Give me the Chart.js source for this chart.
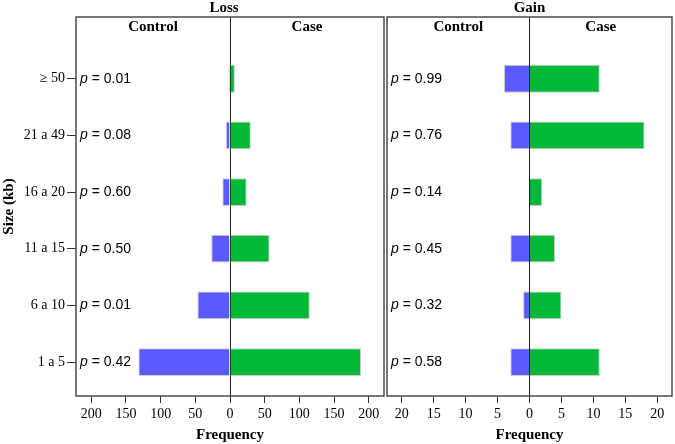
<!DOCTYPE html>
<html lang="en">
<head>
  <meta charset="UTF-8" />
  <script src="https://cdn.jsdelivr.net/npm/chart.js"></script>
  <title>Loss / Gain by size</title>
  <style>
    body { margin: 0; background: #fff; }
    #wrap { position: relative; width: 675px; height: 444px; }
    #lossBox { position: absolute; left: 0; top: 0; width: 385px; height: 444px; }
    #gainBox { position: absolute; left: 385px; top: 0; width: 290px; height: 444px; }
  </style>
</head>
<body>
  <div id="wrap">
    <div id="lossBox"><canvas id="lossChart"></canvas></div>
    <div id="gainBox"><canvas id="gainChart"></canvas></div>
  </div>

  <script>
    // size categories, top to bottom
    const sizes = ['≥ 50', '21 a 49', '16 a 20', '11 a 15', '6 a 10', '1 a 5'];

    // Loss
    const lossControl = [2, 6, 11, 27, 47, 132];
    const lossCase = [7, 30, 24, 57, 115, 189];
    const lossP = ['0.01', '0.08', '0.60', '0.50', '0.01', '0.42'];

    // Gain
    const gainControl = [4, 3, 0, 3, 1, 3];
    const gainCase = [11, 18, 2, 4, 5, 11];
    const gainP = ['0.99', '0.76', '0.14', '0.45', '0.32', '0.58'];

    const BLUE = '#5a5aff';
    const GREEN = '#00b838';
    const SERIF = '"Liberation Serif", "Times New Roman", serif';
    const SANS = '"Liberation Sans", Arial, sans-serif';

    // frame, headers, panel title and p-values
    const panelDecor = {
      id: 'panelDecor',
      afterDraw(chart) {
        const o = chart.options.plugins.panelDecor;
        const { ctx, chartArea: a } = chart;
        const xs = chart.scales.x, ys = chart.scales.y;
        const zero = xs.getPixelForValue(0);
        ctx.save();
        ctx.strokeStyle = '#4a4a4a';
        ctx.lineWidth = 1.5;
        ctx.strokeRect(a.left, a.top, a.right - a.left, a.bottom - a.top);

        ctx.fillStyle = '#000';
        ctx.textAlign = 'center';
        ctx.textBaseline = 'middle';
        ctx.font = 'bold 15px ' + SERIF;
        ctx.fillText(o.title, o.titleX != null ? o.titleX : (a.left + a.right) / 2, 8);
        ctx.fillText('Control', (a.left + zero) / 2, a.top + 10);
        ctx.fillText('Case', (zero + a.right) / 2, a.top + 10);

        ctx.textAlign = 'left';
        o.pvals.forEach((p, i) => {
          const y = ys.getPixelForValue(i);
          const x = a.left + 4;
          ctx.font = 'italic 14px ' + SANS;
          ctx.fillText('p', x, y);
          const w = ctx.measureText('p').width;
          ctx.font = '14px ' + SANS;
          ctx.fillText(' = ' + p, x + w, y);
        });
        ctx.restore();
      }
    };

    function makeChart(id, control, cases, pvals, lim, step, title, showY, pad, titleX) {
      const pts = (arr, sign) => arr.map((v, i) => ({ x: sign * v, y: i }));
      return new Chart(document.getElementById(id), {
        type: 'bar',
        data: {
          datasets: [
            { label: 'Control', data: pts(control, -1), backgroundColor: BLUE },
            { label: 'Case', data: pts(cases, 1), backgroundColor: GREEN }
          ]
        },
        options: {
          indexAxis: 'y',
          responsive: true,
          maintainAspectRatio: false,
          animation: false,
          layout: { padding: pad },
          datasets: {
            bar: {
              categoryPercentage: 1,
              barPercentage: 0.49,
              borderWidth: 1,
              borderColor: '#cfcfcf'
            }
          },
          plugins: {
            legend: { display: false },
            tooltip: { enabled: false },
            panelDecor: { title: title, pvals: pvals, titleX: titleX }
          },
          scales: {
            x: {
              type: 'linear',
              stacked: true,
              min: -lim,
              max: lim,
              border: { display: false },
              grid: {
                color: c => (c.tick && c.tick.value === 0 ? '#222' : 'transparent'),
                lineWidth: 1,
                tickColor: '#333',
                tickLength: 7
              },
              ticks: {
                stepSize: step,
                includeBounds: false,
                maxRotation: 0,
                autoSkip: false,
                padding: 3,
                color: '#000',
                font: { family: SERIF, size: 14 },
                callback: v => Math.abs(v)
              },
              title: {
                display: true,
                text: 'Frequency',
                color: '#000',
                font: { family: SERIF, size: 15, weight: 'bold' },
                padding: { top: 0, bottom: 0 }
              },
              afterFit: s => { s.height = 48; }
            },
            y: {
              type: 'linear',
              stacked: true,
              reverse: true,
              offset: false,
              min: -1.09,
              max: 5.6,
              display: showY,
              border: { display: false },
              grid: {
                offset: false,
                drawOnChartArea: false,
                tickColor: '#333',
                tickLength: 9
              },
              afterBuildTicks: s => { s.ticks = sizes.map((_, i) => ({ value: i })); },
              ticks: {
                autoSkip: false,
                padding: 2,
                color: '#000',
                font: { family: SERIF, size: 14 },
                callback: v => sizes[v]
              },
              title: {
                display: showY,
                text: 'Size (kb)',
                color: '#000',
                font: { family: SERIF, size: 15, weight: 'bold' },
                padding: { top: 0, bottom: 0 }
              },
              afterFit: s => { s.width = showY ? 76 : 0; }
            }
          }
        },
        plugins: [panelDecor]
      });
    }

    makeChart('lossChart', lossControl, lossCase, lossP, 222, 50, 'Loss', true,
      { top: 17, right: 1, left: 0, bottom: 0 }, 224);
    makeChart('gainChart', gainControl, gainCase, gainP, 22.3, 5, 'Gain', false,
      { top: 17, right: 3, left: 2, bottom: 0 }, null);
  </script>
</body>
</html>
